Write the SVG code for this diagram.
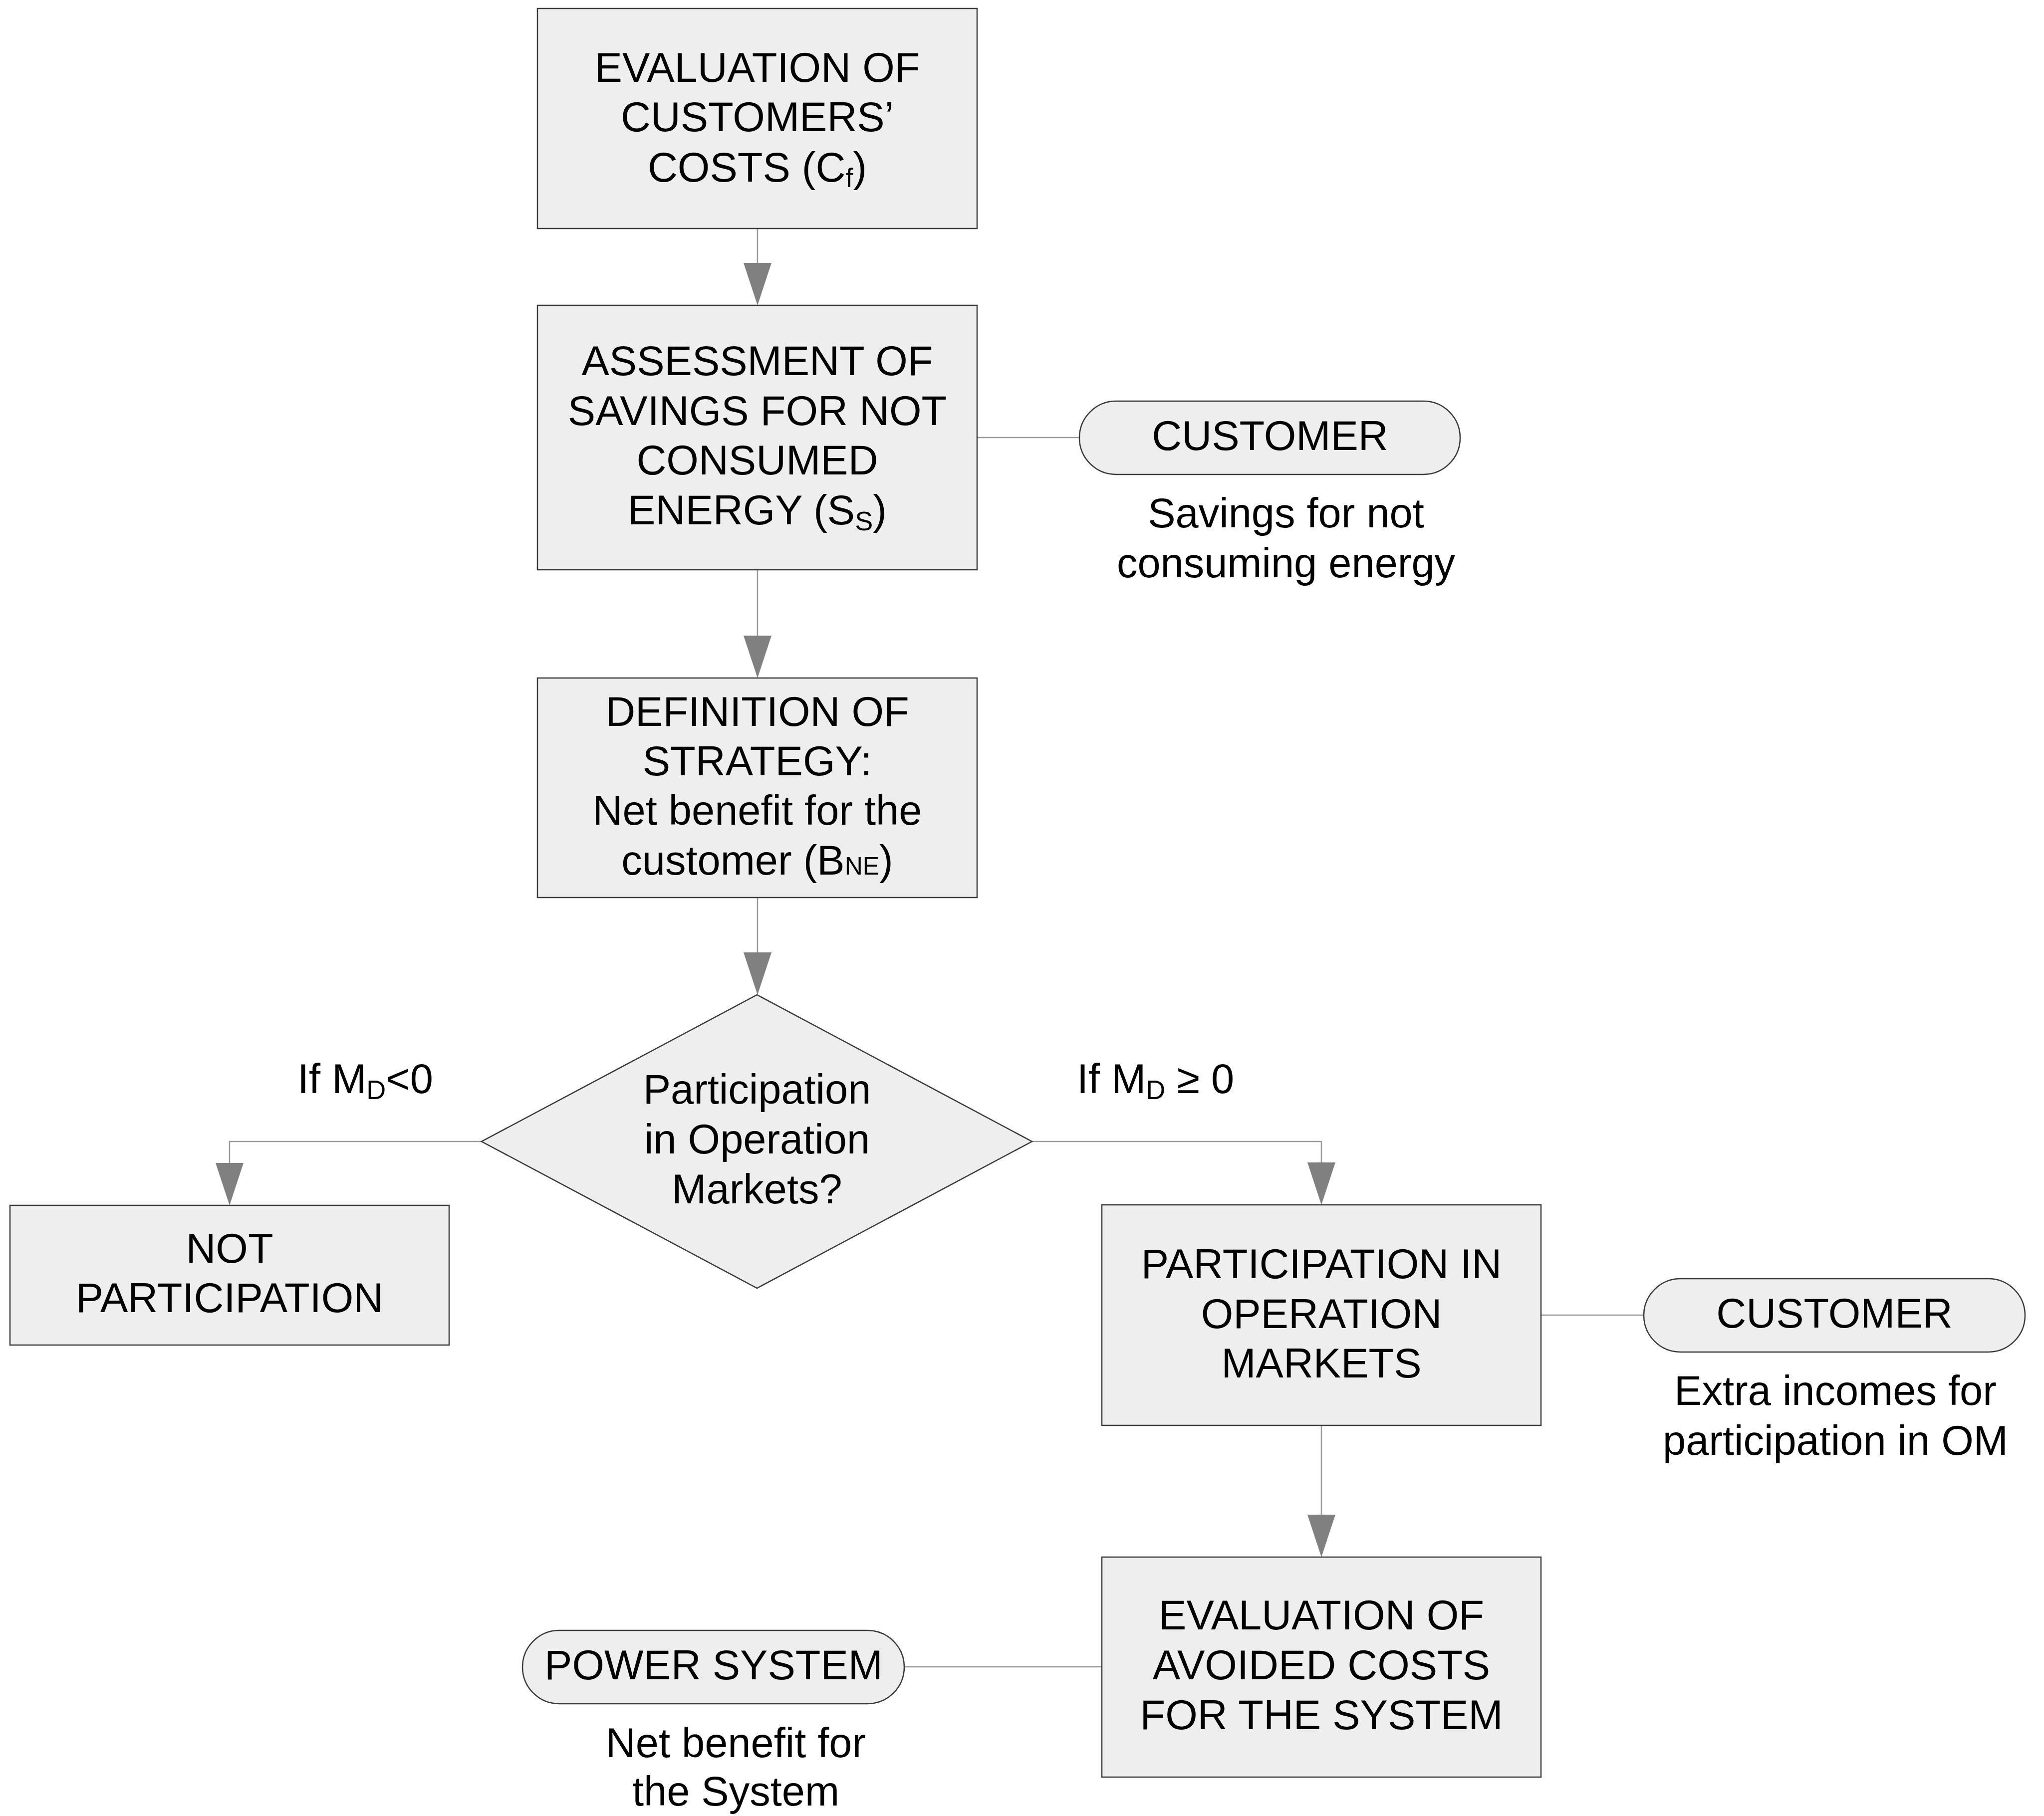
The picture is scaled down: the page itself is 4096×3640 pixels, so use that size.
<svg xmlns="http://www.w3.org/2000/svg" width="4096" height="3640" viewBox="0 0 4096 3640">
<style>
.box{fill:#eeeeee;stroke:#3a3a3a;stroke-width:2.5}
.ln{fill:none;stroke:#999999;stroke-width:2.5}
.ah{fill:#808080;stroke:none}
text{font-family:"Liberation Sans",Arial,sans-serif;font-size:83px;fill:#000}
.c{text-anchor:middle}
.sub{font-size:54px}
</style>
<rect width="4096" height="3640" fill="#ffffff"/>
<g id="connectors">
<line class="ln" x1="1518" y1="458" x2="1518" y2="530"/>
<polygon class="ah" points="1490,527 1546,527 1518,612"/>
<line class="ln" x1="1518" y1="1142" x2="1518" y2="1277"/>
<polygon class="ah" points="1490,1274 1546,1274 1518,1359"/>
<line class="ln" x1="1518" y1="1799" x2="1518" y2="1912"/>
<polygon class="ah" points="1490,1909 1546,1909 1518,1994"/>
<polyline class="ln" points="965,2288 460,2288 460,2334"/>
<polygon class="ah" points="432,2331 488,2331 460,2416"/>
<polyline class="ln" points="2068,2288 2648,2288 2648,2333"/>
<polygon class="ah" points="2620,2330 2676,2330 2648,2415"/>
<line class="ln" x1="2648" y1="2857" x2="2648" y2="3039"/>
<polygon class="ah" points="2620,3036 2676,3036 2648,3121"/>
<line class="ln" x1="1958" y1="877" x2="2163" y2="877"/>
<line class="ln" x1="3088" y1="2636" x2="3294" y2="2636"/>
<line class="ln" x1="1812" y1="3341" x2="2208" y2="3341"/>
</g>
<g id="n1">
<rect class="box" x="1077" y="17" width="881" height="441"/>
<text class="c" x="1517.5" y="164">EVALUATION OF</text>
<text class="c" x="1517.5" y="263">CUSTOMERS’</text>
<text class="c" x="1517.5" y="364">COSTS (C<tspan class="sub" dy="11">f</tspan><tspan dy="-11">)</tspan></text>
</g>
<g id="n2">
<rect class="box" x="1077" y="612" width="881" height="530"/>
<text class="c" x="1517.5" y="752">ASSESSMENT OF</text>
<text class="c" x="1517.5" y="852">SAVINGS FOR NOT</text>
<text class="c" x="1517.5" y="951">CONSUMED</text>
<text class="c" x="1517.5" y="1051">ENERGY (S<tspan class="sub" dy="12">S</tspan><tspan dy="-12">)</tspan></text>
</g>
<g id="n_customer1">
<rect class="box" x="2163" y="804" width="763" height="147" rx="73.5" ry="73.5"/>
<text class="c" x="2545" y="902">CUSTOMER</text>
<text class="c" x="2577" y="1057">Savings for not</text>
<text class="c" x="2577" y="1157">consuming energy</text>
</g>
<g id="n3">
<rect class="box" x="1077" y="1359" width="881" height="440"/>
<text class="c" x="1517.5" y="1455">DEFINITION OF</text>
<text class="c" x="1517.5" y="1554">STRATEGY:</text>
<text class="c" x="1517.5" y="1653">Net benefit for the</text>
<text class="c" x="1517.5" y="1753">customer (B<tspan font-size="50">NE</tspan>)</text>
</g>
<g id="n_decision">
<polygon class="box" points="1517,1994 2068,2288 1517,2582 965,2288"/>
<text class="c" x="1517" y="2212">Participation</text>
<text class="c" x="1517" y="2312">in Operation</text>
<text class="c" x="1517" y="2412">Markets?</text>
</g>
<g id="labels">
<text x="596" y="2191">If M<tspan class="sub" dy="12">D</tspan><tspan dy="-12">&lt;0</tspan></text>
<text x="2158" y="2191">If M<tspan class="sub" dy="12">D</tspan><tspan dy="-12"> ≥ 0</tspan></text>
</g>
<g id="n_not">
<rect class="box" x="20" y="2416" width="880" height="280"/>
<text class="c" x="460" y="2531">NOT</text>
<text class="c" x="460" y="2630">PARTICIPATION</text>
</g>
<g id="n_part">
<rect class="box" x="2208" y="2415" width="880" height="442"/>
<text class="c" x="2648" y="2562">PARTICIPATION IN</text>
<text class="c" x="2648" y="2662">OPERATION</text>
<text class="c" x="2648" y="2761">MARKETS</text>
</g>
<g id="n_customer2">
<rect class="box" x="3294" y="2563" width="764" height="147" rx="73.5" ry="73.5"/>
<text class="c" x="3676" y="2661">CUSTOMER</text>
<text class="c" x="3678" y="2816">Extra incomes for</text>
<text class="c" x="3678" y="2916">participation in OM</text>
</g>
<g id="n_eval2">
<rect class="box" x="2208" y="3121" width="880" height="441"/>
<text class="c" x="2648" y="3266">EVALUATION OF</text>
<text class="c" x="2648" y="3366">AVOIDED COSTS</text>
<text class="c" x="2648" y="3466">FOR THE SYSTEM</text>
</g>
<g id="n_power">
<rect class="box" x="1047" y="3268" width="765" height="147" rx="73.5" ry="73.5"/>
<text class="c" x="1430" y="3366">POWER SYSTEM</text>
<text class="c" x="1474.5" y="3522">Net benefit for</text>
<text class="c" x="1474.5" y="3619">the System</text>
</g>
</svg>
